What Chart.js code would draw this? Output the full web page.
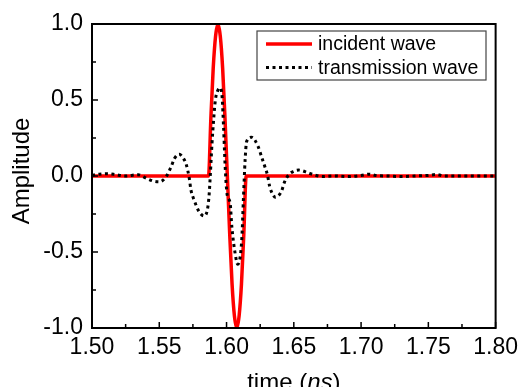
<!DOCTYPE html>
<html>
<head>
<meta charset="utf-8">
<script src="https://cdn.jsdelivr.net/npm/chart.js@4/dist/chart.umd.min.js"></script>
<style>
  html, body { margin: 0; padding: 0; background: #fff; }
  #wrap { width: 524px; height: 387px; position: relative; }
</style>
</head>
<body>
<div id="wrap"><canvas id="waveChart"></canvas></div>
<script>
// time axis in ns, amplitude normalised
const incidentTime = [1.500, 1.5866, 1.58835, 1.5901, 1.59185, 1.5936, 1.59535, 1.5971, 1.59885, 1.6006,
                      1.60235, 1.6041, 1.60585, 1.6076, 1.60935, 1.6111, 1.61285, 1.6146, 1.800];
const incidentAmp  = [0, 0, 0.38, 0.71, 0.92, 1.0, 0.92, 0.71, 0.38, 0,
                      -0.38, -0.71, -0.92, -1.0, -0.92, -0.71, -0.38, 0, 0];

const transTime = [1.500, 1.5049, 1.511, 1.5171, 1.5243, 1.5343, 1.5404, 1.5454, 1.5502, 1.5551,
                   1.5588, 1.5613, 1.5649, 1.5676, 1.5699, 1.5723, 1.5735, 1.576, 1.5796, 1.5833,
                   1.5858, 1.587, 1.5879, 1.5892, 1.5904, 1.5917, 1.5934, 1.5952, 1.5967, 1.5978,
                   1.599, 1.6004, 1.6027, 1.6039, 1.6064, 1.6083, 1.6113, 1.6125, 1.6138, 1.6149,
                   1.6186, 1.6235, 1.626, 1.6285, 1.6304, 1.6321, 1.6346, 1.6363, 1.6407, 1.6432,
                   1.6461, 1.6493, 1.6537, 1.6603, 1.6652, 1.6713, 1.68, 1.69, 1.70, 1.706,
                   1.712, 1.72, 1.73, 1.74, 1.75, 1.756, 1.762, 1.78, 1.80];
const transAmp  = [0.005, 0.011, 0.015, 0.01, 0.0, 0.008, -0.015, -0.033, -0.038, -0.004,
                   0.06, 0.115, 0.143, 0.12, 0.08, -0.015, -0.09, -0.16, -0.235, -0.263,
                   -0.22, -0.13, 0.0, 0.215, 0.37, 0.5, 0.56, 0.58, 0.52, 0.32,
                   0.06, -0.12, -0.18, -0.33, -0.51, -0.58, -0.42, -0.16, 0.105, 0.226,
                   0.255, 0.193, 0.127, 0.061, 0.007, -0.07, -0.125, -0.14, -0.103, -0.037,
                   0.007, 0.028, 0.039, 0.022, 0.007, -0.003, 0.0, -0.004, 0.003, 0.012,
                   0.002, 0.0, -0.004, 0.0, 0.004, 0.01, 0.0, 0.0, 0.0];

const xTicksMin = 1.50, xTicksMax = 1.80, xStep = 0.05;
const yTicksMin = -1.0, yTicksMax = 1.0, yStep = 0.5;

const toPoints = (xs, ys) => xs.map((x, i) => ({ x: x, y: ys[i] }));

const FONT = "'Liberation Sans', Arial, sans-serif";

// frame, inward ticks, axis titles and boxed legend
const framePlugin = {
    id: 'frame',
    afterDraw: (chart) => {
        const { ctx, chartArea: a, scales } = chart;
        ctx.save();
        ctx.strokeStyle = '#000';
        ctx.lineWidth = 2;
        ctx.strokeRect(a.left, a.top, a.right - a.left, a.bottom - a.top);

        ctx.lineWidth = 1.5;
        ctx.beginPath();
        const xs = scales.x, ys = scales.y;
        xs.ticks.forEach((t, i) => {
            const px = xs.getPixelForValue(t.value);
            ctx.moveTo(px, a.bottom); ctx.lineTo(px, a.bottom - 6);
            if (i < xs.ticks.length - 1) {
                const mx = xs.getPixelForValue((t.value + xs.ticks[i + 1].value) / 2);
                ctx.moveTo(mx, a.bottom); ctx.lineTo(mx, a.bottom - 4);
            }
        });
        ys.ticks.forEach((t, i) => {
            const py = ys.getPixelForValue(t.value);
            ctx.moveTo(a.left, py); ctx.lineTo(a.left + 6, py);
            if (i < ys.ticks.length - 1) {
                const my = ys.getPixelForValue((t.value + ys.ticks[i + 1].value) / 2);
                ctx.moveTo(a.left, my); ctx.lineTo(a.left + 4, my);
            }
        });
        ctx.stroke();

        // axis titles
        ctx.fillStyle = '#000';
        ctx.textBaseline = 'alphabetic';
        ctx.font = '24px ' + FONT;
        const t1 = 'time (', t2 = 'ns', t3 = ')';
        const w1 = ctx.measureText(t1).width, w3 = ctx.measureText(t3).width;
        ctx.font = 'italic 24px ' + FONT;
        const w2 = ctx.measureText(t2).width;
        let tx = (a.left + a.right) / 2 - (w1 + w2 + w3) / 2;
        const ty = 390;
        ctx.textAlign = 'left';
        ctx.font = '24px ' + FONT;
        ctx.fillText(t1, tx, ty);
        ctx.font = 'italic 24px ' + FONT;
        ctx.fillText(t2, tx + w1, ty);
        ctx.font = '24px ' + FONT;
        ctx.fillText(t3, tx + w1 + w2, ty);

        ctx.save();
        ctx.translate(22, 171);
        ctx.rotate(-Math.PI / 2);
        ctx.textAlign = 'center';
        ctx.textBaseline = 'middle';
        ctx.fillText('Amplitude', 0, 0);
        ctx.restore();

        // legend box
        ctx.fillStyle = '#fff';
        ctx.fillRect(257, 31, 229, 49);
        ctx.strokeStyle = '#444';
        ctx.lineWidth = 1.2;
        ctx.strokeRect(257, 31, 229, 49);
        ctx.font = '19.5px ' + FONT;
        ctx.textAlign = 'left';
        ctx.textBaseline = 'middle';
        chart.data.datasets.forEach((ds, i) => {
            const ly = 44 + i * 23.5;
            ctx.strokeStyle = ds.borderColor;
            ctx.lineWidth = ds.borderWidth;
            ctx.setLineDash(ds.borderDash || []);
            ctx.beginPath();
            ctx.moveTo(266, ly); ctx.lineTo(312, ly);
            ctx.stroke();
            ctx.setLineDash([]);
            ctx.fillStyle = '#000';
            ctx.fillText(ds.label, 318, ly + 1);
        });
        ctx.restore();
    }
};

new Chart(document.getElementById('waveChart').getContext('2d'), {
    type: 'line',
    data: {
        datasets: [
            { label: 'incident wave', data: toPoints(incidentTime, incidentAmp), borderColor: '#ff0000',
              borderWidth: 3.5, pointRadius: 0, cubicInterpolationMode: 'monotone', order: 1 },
            { label: 'transmission wave', data: toPoints(transTime, transAmp), borderColor: '#000000',
              borderWidth: 3, borderDash: [3, 3.5], pointRadius: 0, cubicInterpolationMode: 'monotone', order: 0 }
        ]
    },
    options: {
        responsive: true, maintainAspectRatio: false, animation: false,
        layout: { padding: { left: 0, right: 24, top: 24, bottom: 0 } },
        scales: {
            x: {
                type: 'linear', min: xTicksMin, max: xTicksMax,
                grid: { display: false, drawTicks: false },
                border: { display: false },
                ticks: { stepSize: xStep, padding: 6, color: '#000', font: { family: FONT, size: 23 },
                         callback: (v) => v.toFixed(2) },
                afterFit: (s) => { s.height = 59; }
            },
            y: {
                min: yTicksMin, max: yTicksMax,
                grid: { display: false, drawTicks: false },
                border: { display: false },
                ticks: { stepSize: yStep, padding: 9, color: '#000', font: { family: FONT, size: 23 },
                         callback: (v) => v.toFixed(1) },
                afterFit: (s) => { s.width = 92; }
            }
        },
        plugins: { legend: { display: false }, tooltip: { enabled: false } }
    },
    plugins: [framePlugin]
});
</script>
</body>
</html>
